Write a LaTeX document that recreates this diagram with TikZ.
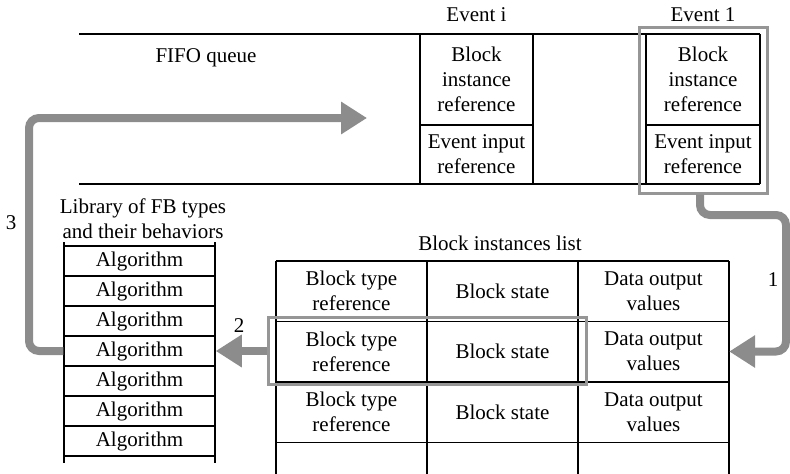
\documentclass[tikz,border=0pt]{standalone}
\usepackage{fontspec}
\setmainfont{Liberation Serif}
\usetikzlibrary{arrows.meta}
\definecolor{garr}{RGB}{140,140,140}
\definecolor{ghl}{RGB}{150,150,150}
\begin{document}
\begin{tikzpicture}[x=1pt,y=-1pt,
  txt/.style={font=\fontsize{21}{25}\selectfont, align=center, inner sep=0pt},
  ln/.style={line width=1.5pt, black},
  hl/.style={draw=ghl, line width=3pt, inner sep=0pt},
  cell/.style={txt, minimum width=151pt, minimum height=60.5pt},
  libcell/.style={txt, draw, line width=1.5pt, minimum width=151pt, minimum height=30pt},
  garrow/.style={draw=garr, line width=8pt, rounded corners=10pt, -{Triangle[length=26pt,width=31pt]}},
]
\useasboundingbox (0,0) rectangle (790,474);

% ---------- FIFO queue ----------
\draw[ln] (79,34) -- (760,34);
\draw[ln] (79,184) -- (760,184);
\foreach \x in {420,533,646,760} \draw[ln] (\x,34) -- (\x,184);
\draw[ln] (420,125) -- (533,125);
\draw[ln] (646,125) -- (760,125);

\node[txt] (fifo) at (206,58) {FIFO queue};
\node[txt] (evi) at (476.5,15) {Event i};
\node[txt] (ev1) at (703,15) {Event 1};
\node[txt] (bii) at (476.5,79.5) {Block\\instance\\reference};
\node[txt] (eii) at (476.5,154.5) {Event input\\reference};
\node[txt] (bi1) at (703,79.5) {Block\\instance\\reference};
\node[txt] (ei1) at (703,154.5) {Event input\\reference};
\node[hl, minimum width=128pt, minimum height=166pt] (hlE) at (703,110) {};

% ---------- Block instances list ----------
\node[txt] (bil) at (500,243) {Block instances list};
\foreach \x in {276,427,578,729} \draw[ln] (\x,261) -- (\x,474);
\foreach \y in {261,321.5,382,442.5} \draw[ln] (276,\y) -- (729,\y);
\foreach \r/\y in {1/291,2/351.5,3/412}{
  \node[cell] (r\r c1) at (351.5,\y) {Block type\\reference};
  \node[cell] (r\r c2) at (502.5,\y) {Block state};
  \node[cell] (r\r c3) at (653.5,\y) {Data output\\values};
}
\node[hl, minimum width=318pt, minimum height=67pt] (hlT) at (427,351) {};

% ---------- Library ----------
\node[txt] (libt) at (143,218.5) {Library of FB types\\and their behaviors};
\draw[ln] (64,242) -- (64,463);
\draw[ln] (215,242) -- (215,463);
\foreach \i [evaluate=\i as \y using 231+30*\i] in {1,...,7}
  \node[libcell] (lib\i) at (139.5,\y) {Algorithm};

% ---------- labels ----------
\node[txt] (l1) at (773,280) {1};
\node[txt] (l2) at (239,326) {2};
\node[txt] (l3) at (11,223) {3};

% ---------- arrows ----------
\coordinate (a1top) at (700,0);
\coordinate (a1r) at (786,215);
\coordinate (a3l) at (29,118);
\coordinate (a3end) at (367,118);
\draw[garrow] (hlE.south -| a1top) -- (700,215) -- (a1r) -- (a1r |- r2c3.east) -- (r2c3.east);
\draw[garrow] (hlT.west) -- (lib4.east);
\draw[garrow] (lib4.west) -- (lib4.west -| a3l) -- (a3l) -- (a3end);
\end{tikzpicture}
\end{document}
